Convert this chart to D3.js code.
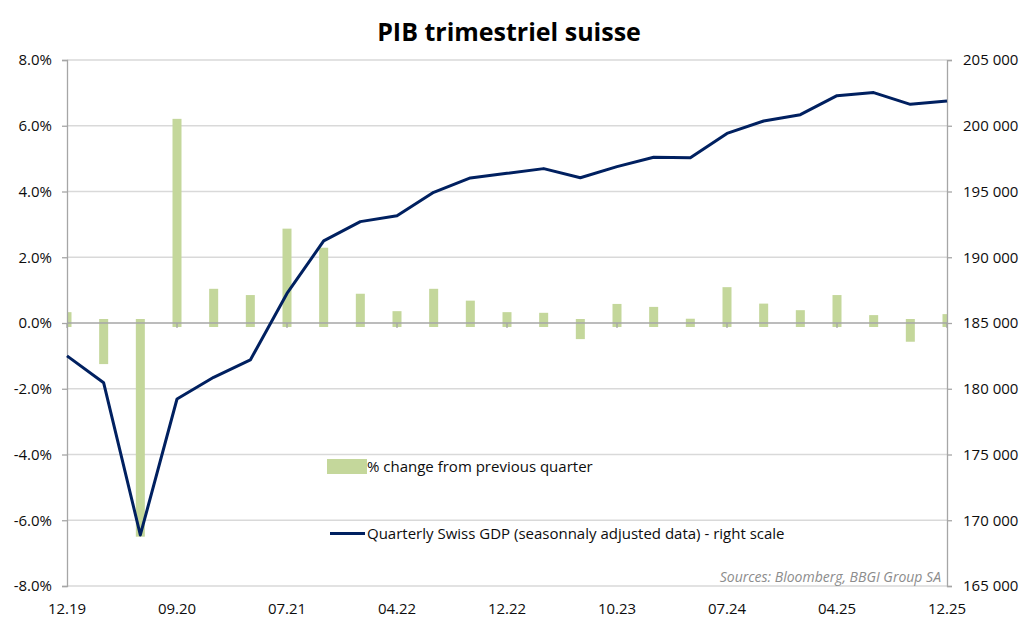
<!DOCTYPE html>
<html>
<head>
<meta charset="utf-8">
<script src="https://cdn.jsdelivr.net/npm/d3@7/dist/d3.min.js"></script>
<style>
  html, body { margin: 0; padding: 0; background: #ffffff; }
  svg { display: block; font-family: "Open Sans", "Noto Sans", sans-serif; }
</style>
</head>
<body>
<svg id="chart" width="1024" height="634"></svg>
<script>
// ---- Data ----
const quarters = ["12.19","03.20","06.20","09.20","12.20","03.21","06.21","09.21","12.21",
  "03.22","06.22","09.22","12.22","03.23","06.23","09.23","12.23","03.24","06.24","09.24",
  "12.24","03.25","06.25","09.25","12.25"];
const pctChange = [0.33, -1.25, -6.5, 6.21, 1.04, 0.85, 2.87, 2.29, 0.89, 0.36, 1.04, 0.68,
  0.33, 0.31, -0.49, 0.58, 0.49, 0.13, 1.09, 0.59, 0.39, 0.85, 0.24, -0.57, 0.27];
const gdpLevel = [182500, 180450, 168880, 179220, 180870, 182190, 187250, 191240, 192710,
  193160, 194940, 196030, 196380, 196740, 196050, 196890, 197600, 197570, 199420, 200360,
  200840, 202290, 202520, 201630, 201880];
const xTickIndex = [0, 3, 6, 9, 12, 15, 18, 21, 24];
const xTickLabels = ["12.19","09.20","07.21","04.22","12.22","10.23","07.24","04.25","12.25"];
const leftTicks = [-8, -6, -4, -2, 0, 2, 4, 6, 8];
const rightTicks = [165000, 170000, 175000, 180000, 185000, 190000, 195000, 200000, 205000];

const title = "PIB trimestriel suisse";
const barLegend = "% change from previous quarter";
const lineLegend = "Quarterly Swiss GDP (seasonnaly adjusted data) - right scale";
const source = "Sources: Bloomberg, BBGI Group SA";

// ---- Layout ----
const L = 67, R = 947, T = 60, B = 586;
const svg = d3.select("#chart");

const x = d3.scaleLinear().domain([0, quarters.length - 1]).range([L, R]);
const yL = d3.scaleLinear().domain([-8, 8]).range([B, T]);
const yR = d3.scaleLinear().domain([165000, 205000]).range([B, T]);

const gridColor = "#d9d9d9";
const axisColor = "#a6a6a6";
const textColor = "#0d0d0d";
const barColor = "#c4d79b";
const lineColor = "#002060";
const fs = 15;

// Title
svg.append("text").attr("x", 509).attr("y", 41).attr("text-anchor", "middle")
  .attr("font-size", 25).attr("font-weight", "bold").attr("fill", "#000")
  .text(title);

// Gridlines
svg.append("g").selectAll("line").data(leftTicks.filter(d => d !== 0)).join("line")
  .attr("x1", L).attr("x2", R)
  .attr("y1", d => yL(d)).attr("y2", d => yL(d))
  .attr("stroke", gridColor).attr("stroke-width", 1.3);

// Clip for bars
svg.append("clipPath").attr("id", "plotClip").append("rect")
  .attr("x", L).attr("y", T - 5).attr("width", R - L).attr("height", B - T + 10);

// Bars
const barW = 9, overhang = 4;
svg.append("g").attr("clip-path", "url(#plotClip)").selectAll("rect").data(pctChange).join("rect")
  .attr("x", (d, i) => x(i) - barW / 2)
  .attr("width", barW)
  .attr("y", d => d >= 0 ? yL(d) : yL(0) - overhang)
  .attr("height", d => d >= 0 ? yL(0) - yL(d) + overhang : yL(d) - yL(0) + overhang)
  .attr("fill", barColor);

// Zero axis line
svg.append("line").attr("x1", L).attr("x2", R).attr("y1", yL(0)).attr("y2", yL(0))
  .attr("stroke", axisColor).attr("stroke-width", 1.5);

// X ticks
svg.append("g").selectAll("line").data(xTickIndex).join("line")
  .attr("x1", d => x(d)).attr("x2", d => x(d))
  .attr("y1", yL(0)).attr("y2", yL(0) + 5)
  .attr("stroke", axisColor).attr("stroke-width", 1.3);

// Left axis
const gLeft = svg.append("g").attr("transform", `translate(${L},0)`)
  .call(d3.axisLeft(yL).tickValues(leftTicks).tickFormat(d => d.toFixed(1) + "%").tickSize(5).tickPadding(10));
gLeft.select(".domain").attr("stroke", axisColor).attr("stroke-width", 1.3);
gLeft.selectAll(".tick line").attr("stroke", axisColor).attr("stroke-width", 1.3);
gLeft.selectAll(".tick text").attr("font-size", fs).attr("fill", textColor)
  .attr("font-family", "'Open Sans', sans-serif");

// Right axis
const gRight = svg.append("g").attr("transform", `translate(${R},0)`)
  .call(d3.axisRight(yR).tickValues(rightTicks).tickFormat(d => d3.format(",")(d).replace(/,/g, " ")).tickSize(5).tickPadding(11));
gRight.select(".domain").attr("stroke", axisColor).attr("stroke-width", 1.3);
gRight.selectAll(".tick line").attr("stroke", axisColor).attr("stroke-width", 1.3);
gRight.selectAll(".tick text").attr("font-size", fs).attr("fill", textColor)
  .attr("font-family", "'Open Sans', sans-serif");

// X labels
svg.append("g").selectAll("text").data(xTickIndex).join("text")
  .attr("x", d => x(d)).attr("y", 614).attr("text-anchor", "middle")
  .attr("font-size", fs).attr("fill", textColor)
  .text((d, i) => xTickLabels[i]);

// GDP line
const line = d3.line().x((d, i) => x(i)).y(d => yR(d));
svg.append("path").datum(gdpLevel).attr("d", line)
  .attr("fill", "none").attr("stroke", lineColor).attr("stroke-width", 3)
  .attr("stroke-linejoin", "round");

// Legend
svg.append("rect").attr("x", 327).attr("y", 459).attr("width", 40).attr("height", 15).attr("fill", barColor);
svg.append("text").attr("x", 367).attr("y", 472).attr("font-size", fs).attr("fill", textColor).text(barLegend);
svg.append("line").attr("x1", 330).attr("x2", 365).attr("y1", 533.5).attr("y2", 533.5)
  .attr("stroke", lineColor).attr("stroke-width", 3);
svg.append("text").attr("x", 367).attr("y", 539).attr("font-size", fs).attr("fill", textColor).text(lineLegend);

// Source
svg.append("text").attr("x", 941).attr("y", 582).attr("text-anchor", "end")
  .attr("font-size", 14).attr("font-style", "italic").attr("fill", "#8c8c8c").text(source);
</script>
</body>
</html>
